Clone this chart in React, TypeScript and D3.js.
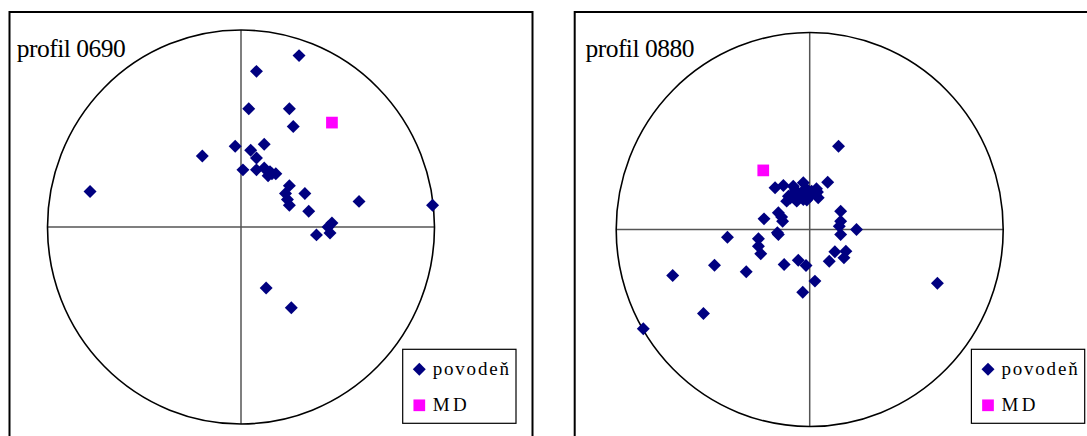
import React, { useRef, useEffect } from "react";
import * as d3 from "d3";

// normalised coordinates (-1..1)
const titles = ["profil 0690", "profil 0880"];
const legendLabels = ["povodeň", "MD"];

const povoden0690 = [
  [0.30, 0.87], [0.08, 0.79], [0.04, 0.60], [0.25, 0.60], [0.27, 0.51],
  [-0.03, 0.41], [0.12, 0.42], [0.05, 0.39], [-0.20, 0.36], [0.08, 0.35],
  [0.01, 0.29], [0.08, 0.29], [0.12, 0.30], [0.15, 0.28], [0.16, 0.27],
  [0.18, 0.27], [0.14, 0.26], [0.25, 0.21], [0.23, 0.17], [0.33, 0.17],
  [0.24, 0.14], [0.25, 0.11], [0.61, 0.13], [0.35, 0.08], [0.47, 0.02],
  [0.45, 0.0], [0.46, -0.03], [0.39, -0.04], [-0.78, 0.18], [0.99, 0.11],
  [0.13, -0.31], [0.26, -0.41],
];
const md0690 = [[0.47, 0.53]];

const povoden0880 = [
  [0.149, 0.423], [0.093, 0.24], [-0.179, 0.212], [-0.136, 0.223], [-0.085, 0.22],
  [-0.033, 0.237], [0.035, 0.207], [0.044, 0.161], [-0.11, 0.169], [-0.067, 0.144],
  [-0.033, 0.152], [-0.119, 0.144], [0.002, 0.169], [0.01, 0.194], [-0.041, 0.186],
  [-0.086, 0.178], [-0.1, 0.16], [-0.05, 0.165], [-0.015, 0.15], [0.03, 0.18],
  [-0.075, 0.2], [-0.02, 0.21], [0.04, 0.19], [-0.06, 0.185],
  [0.16, 0.093], [-0.162, 0.085], [-0.145, 0.064], [-0.14, 0.042],
  [-0.236, 0.054], [0.16, 0.042], [0.153, 0.017], [0.242, 0.0], [0.16, -0.025],
  [-0.167, -0.017], [-0.162, -0.025], [-0.425, -0.039], [-0.265, -0.047], [-0.265, -0.085],
  [-0.253, -0.123], [0.13, -0.113], [0.187, -0.11], [0.177, -0.144], [0.101, -0.161],
  [-0.059, -0.156], [-0.019, -0.183], [-0.132, -0.178], [-0.328, -0.215], [0.027, -0.262],
  [-0.036, -0.318], [-0.492, -0.181], [-0.708, -0.234], [-0.549, -0.426], [-0.86, -0.504],
  [0.66, -0.273],
];
const md0880 = [[-0.24, 0.30]];

const panels = [
  { title: titles[0], povoden: povoden0690, md: md0690, dx: 0, cy: 227 },
  { title: titles[1], povoden: povoden0880, md: md0880, dx: 568.7, cy: 229.5 },
];

const NAVY = "#000080";
const MAGENTA = "#ff00ff";
const FONT = "'Liberation Serif', 'Times New Roman', serif";

function App() {
  const svgRef = useRef(null);

  useEffect(() => {
    const svg = d3.select(svgRef.current);
    svg.selectAll("*").remove();

    const diamond = d3.symbol(d3.symbolSquare, 84);
    const square = d3.symbol(d3.symbolSquare, 137);

    panels.forEach(p => {
      const g = svg.append("g").attr("transform", `translate(${p.dx},0)`);
      const cx = 241;
      const rx = 193.5;
      const ry = 197;

      const x = d3.scaleLinear().domain([-1, 1]).range([cx - rx, cx + rx]);
      const y = d3.scaleLinear().domain([-1, 1]).range([p.cy + ry, p.cy - ry]);

      // frame
      g.append("rect")
        .attr("x", p.dx === 0 ? 9.5 : 6)
        .attr("y", 12)
        .attr("width", p.dx === 0 ? 523 : 540)
        .attr("height", 460)
        .attr("fill", "white")
        .attr("stroke", "black")
        .attr("stroke-width", 2);

      // axes
      g.append("line")
        .attr("x1", x(-1)).attr("x2", x(1))
        .attr("y1", y(0)).attr("y2", y(0))
        .attr("stroke", "#555").attr("stroke-width", 1.5);
      g.append("line")
        .attr("x1", x(0)).attr("x2", x(0))
        .attr("y1", y(-1)).attr("y2", y(1))
        .attr("stroke", "#555").attr("stroke-width", 1.5);

      // unit circle
      g.append("ellipse")
        .attr("cx", x(0)).attr("cy", y(0))
        .attr("rx", x(1) - x(0)).attr("ry", y(0) - y(1))
        .attr("fill", "none")
        .attr("stroke", "black")
        .attr("stroke-width", 1.6);

      g.append("text")
        .attr("x", 16.7)
        .attr("y", 56.7)
        .attr("font-family", FONT)
        .attr("font-size", 25.5)
        .attr("letter-spacing", -0.5)
        .text(p.title);

      g.selectAll(".pov")
        .data(p.povoden)
        .join("path")
        .attr("class", "pov")
        .attr("d", diamond())
        .attr("fill", NAVY)
        .attr("transform", d => `translate(${x(d[0])},${y(d[1])}) rotate(45)`);

      g.selectAll(".md")
        .data(p.md)
        .join("path")
        .attr("class", "md")
        .attr("d", square())
        .attr("fill", MAGENTA)
        .attr("transform", d => `translate(${x(d[0])},${y(d[1])})`);

      // legend
      const lg = g.append("g").attr("transform", "translate(402.7,349.3)");
      lg.append("rect")
        .attr("width", 113.3)
        .attr("height", 74)
        .attr("fill", "white")
        .attr("stroke", "black")
        .attr("stroke-width", 1.2);
      lg.append("path")
        .attr("d", diamond())
        .attr("fill", NAVY)
        .attr("transform", "translate(16.6,20) rotate(45)");
      lg.append("path")
        .attr("d", square())
        .attr("fill", MAGENTA)
        .attr("transform", "translate(16.6,56)");
      lg.selectAll(".lbl")
        .data(legendLabels)
        .join("text")
        .attr("class", "lbl")
        .attr("x", 30)
        .attr("y", (d, i) => 26 + i * 36)
        .attr("font-family", FONT)
        .attr("font-size", 19)
        .attr("letter-spacing", (d, i) => (i === 0 ? 1.8 : 3.5))
        .text(d => d);
    });
  }, []);

  return (
    <svg
      ref={svgRef}
      width={1087}
      height={436}
      style={{ position: "absolute", left: 0, top: 0, background: "white" }}
    ></svg>
  );
}

export default App;
